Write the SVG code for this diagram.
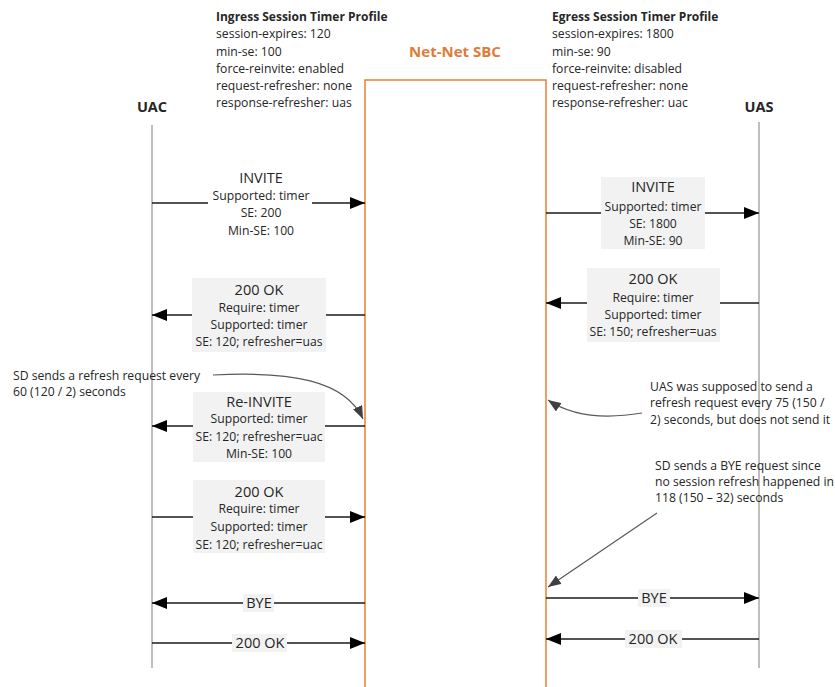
<svg xmlns="http://www.w3.org/2000/svg" width="835" height="687" viewBox="0 0 835 687">
<style>
text{font-family:"Open Sans","Liberation Sans",sans-serif;fill:#262626}
.p{font-size:12.2px}
.pt{font-size:12px;font-weight:bold}
.h{font-size:14.5px;text-anchor:middle}
.l{font-size:12.2px;text-anchor:middle}
.ent{font-size:14.5px;font-weight:bold;text-anchor:middle}
.sbc{font-size:15px;font-weight:bold;fill:#E07B39;text-anchor:middle}
.life{stroke:#7f7f7f;stroke-width:1;fill:none}
.msg{stroke:#1a1a1a;stroke-width:1.3;fill:none;marker-end:url(#ah)}
.note{stroke:#595959;stroke-width:1.2;fill:none;marker-end:url(#nh)}
.box{fill:#f2f2f2}
.wbox{fill:#ffffff}
</style>
<defs>
<marker id="ah" markerUnits="userSpaceOnUse" markerWidth="16" markerHeight="12" refX="15" refY="6" orient="auto">
<path d="M0,0 L15,6 L0,12 z" fill="#000"/>
</marker>
<marker id="nh" markerUnits="userSpaceOnUse" markerWidth="14" markerHeight="10" refX="13" refY="5" orient="auto">
<path d="M0,0 L13,5 L0,10 z" fill="#404040"/>
</marker>
</defs>

<g id="ingress-profile">
<text class="pt" x="216" y="21">Ingress Session Timer Profile</text>
<text class="p" x="216" y="38">session-expires: 120</text>
<text class="p" x="216" y="55.5">min-se: 100</text>
<text class="p" x="216" y="73">force-reinvite: enabled</text>
<text class="p" x="216" y="90">request-refresher: none</text>
<text class="p" x="216" y="107">response-refresher: uas</text>
</g>
<g id="egress-profile">
<text class="pt" x="552" y="21">Egress Session Timer Profile</text>
<text class="p" x="552" y="38">session-expires: 1800</text>
<text class="p" x="552" y="55.5">min-se: 90</text>
<text class="p" x="552" y="73">force-reinvite: disabled</text>
<text class="p" x="552" y="90">request-refresher: none</text>
<text class="p" x="552" y="107">response-refresher: uac</text>
</g>

<g id="uac">
<text class="ent" x="152" y="112">UAC</text>
<line class="life" x1="152" y1="125" x2="152" y2="668"/>
</g>
<g id="uas">
<text class="ent" x="759" y="112">UAS</text>
<line class="life" x1="759" y1="122" x2="759" y2="668"/>
</g>
<g id="sbc">
<text class="sbc" x="455" y="57">Net-Net SBC</text>
<path d="M365,687 V80 H546 V687" fill="none" stroke="#ED7D31" stroke-width="1.5"/>
</g>

<g id="connectors">
<line class="msg" x1="152" y1="203" x2="365" y2="203"/>
<line class="msg" x1="546" y1="213" x2="759" y2="213"/>
<line class="msg" x1="365" y1="315" x2="152" y2="315"/>
<line class="msg" x1="759" y1="303" x2="546" y2="303"/>
<line class="msg" x1="365" y1="426" x2="152" y2="426"/>
<line class="msg" x1="152" y1="517" x2="365" y2="517"/>
<line class="msg" x1="365" y1="603" x2="152" y2="603"/>
<line class="msg" x1="546" y1="598" x2="759" y2="598"/>
<line class="msg" x1="152" y1="643" x2="365" y2="643"/>
<line class="msg" x1="759" y1="639" x2="546" y2="639"/>
<path class="note" d="M213,375 C290,371 345,380 363,419"/>
<path class="note" d="M642,413 C600,420 570,415 548,400"/>
<path class="note" d="M657,513 L548,587"/>
</g>

<g id="invite-in">
<rect class="wbox" x="208" y="190" width="104" height="18"/>
<text class="h" x="261" y="183">INVITE</text>
<text class="l" x="261" y="200">Supported: timer</text>
<text class="l" x="261" y="217">SE: 200</text>
<text class="l" x="261" y="235">Min-SE: 100</text>
</g>
<g id="invite-out">
<rect class="box" x="601" y="177" width="104" height="72"/>
<text class="h" x="653" y="192">INVITE</text>
<text class="l" x="653" y="211">Supported: timer</text>
<text class="l" x="653" y="228">SE: 1800</text>
<text class="l" x="653" y="245">Min-SE: 90</text>
</g>
<g id="ok-out">
<rect class="box" x="587" y="268" width="133" height="74"/>
<text class="h" x="653" y="284">200 OK</text>
<text class="l" x="653" y="302">Require: timer</text>
<text class="l" x="653" y="319">Supported: timer</text>
<text class="l" x="653" y="336">SE: 150; refresher=uas</text>
</g>
<g id="ok-in">
<rect class="box" x="192" y="278" width="134" height="74"/>
<text class="h" x="259" y="295">200 OK</text>
<text class="l" x="259" y="312">Require: timer</text>
<text class="l" x="259" y="329">Supported: timer</text>
<text class="l" x="259" y="346">SE: 120; refresher=uas</text>
</g>
<g id="note-refresh">
<text class="p" x="13" y="380">SD sends a refresh request every</text>
<text class="p" x="13" y="396">60 (120 / 2) seconds</text>
</g>
<g id="reinvite">
<rect class="box" x="193" y="392" width="132" height="70"/>
<text class="h" x="259" y="407">Re-INVITE</text>
<text class="l" x="259" y="423">Supported: timer</text>
<text class="l" x="259" y="441">SE: 120; refresher=uac</text>
<text class="l" x="259" y="458">Min-SE: 100</text>
</g>
<g id="note-uas">
<text class="p" x="650" y="391">UAS was supposed to send a</text>
<text class="p" x="650" y="407">refresh request every 75 (150 /</text>
<text class="p" x="650" y="424">2) seconds, but does not send it</text>
</g>
<g id="ok-reinvite">
<rect class="box" x="193" y="480" width="132" height="73"/>
<text class="h" x="259" y="497">200 OK</text>
<text class="l" x="259" y="513">Require: timer</text>
<text class="l" x="259" y="531">Supported: timer</text>
<text class="l" x="259" y="549">SE: 120; refresher=uac</text>
</g>
<g id="note-bye">
<text class="p" x="655" y="470">SD sends a BYE request since</text>
<text class="p" x="655" y="486">no session refresh happened in</text>
<text class="p" x="655" y="502">118 (150 – 32) seconds</text>
</g>
<g id="bye-in">
<rect class="box" x="243" y="594" width="31" height="18"/>
<text class="h" x="259" y="608">BYE</text>
</g>
<g id="bye-out">
<rect class="box" x="638" y="589" width="32" height="18"/>
<text class="h" x="654" y="603">BYE</text>
</g>
<g id="ok-bye-in">
<rect class="box" x="232" y="634" width="55" height="18"/>
<text class="h" x="260" y="648">200 OK</text>
</g>
<g id="ok-bye-out">
<rect class="box" x="625" y="630" width="57" height="18"/>
<text class="h" x="653" y="644">200 OK</text>
</g>
</svg>
